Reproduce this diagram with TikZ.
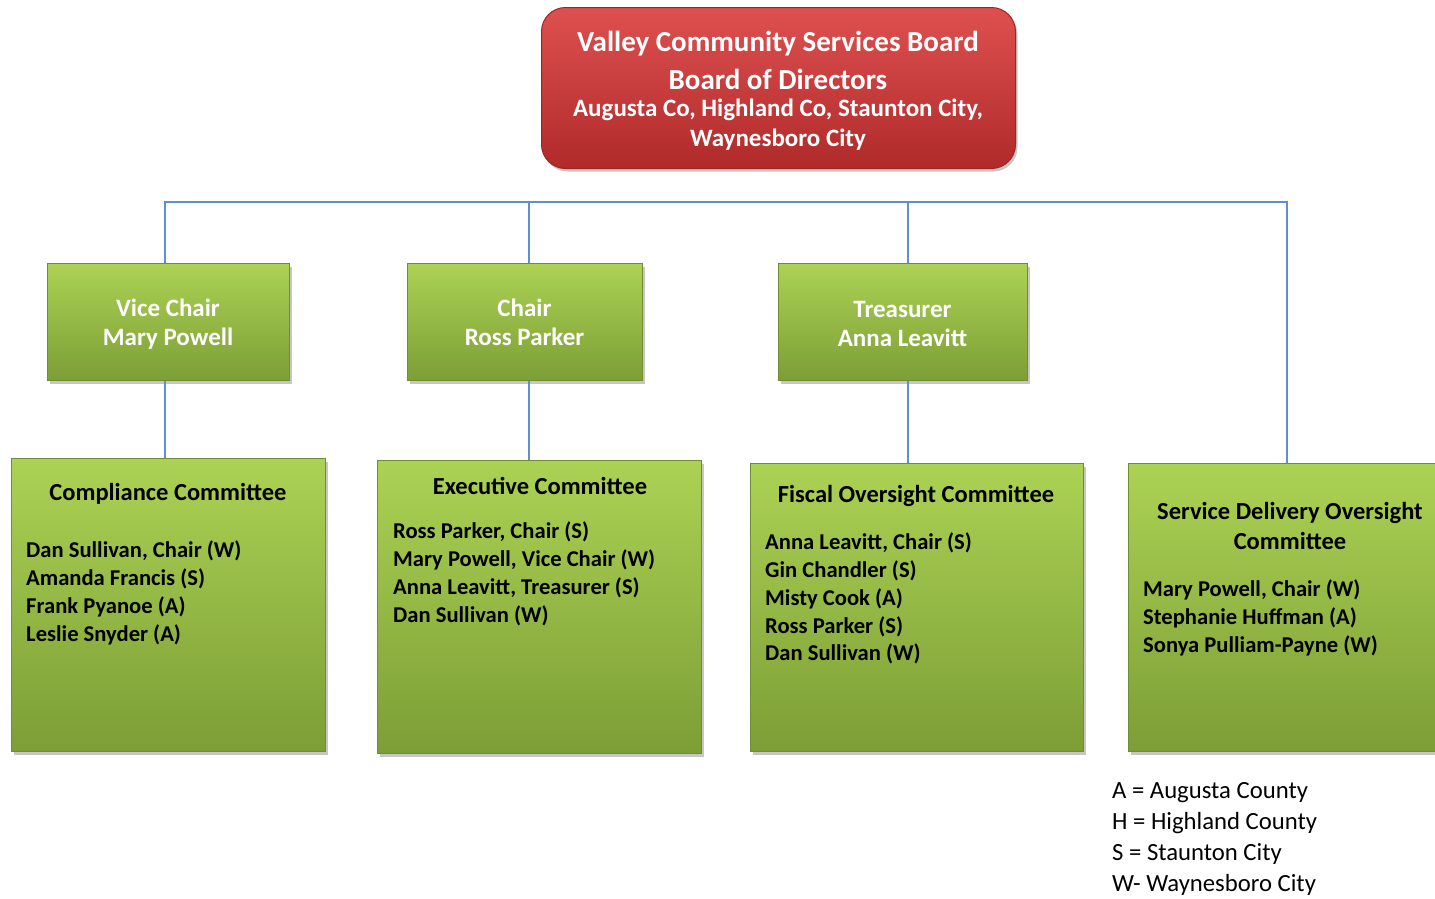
\documentclass[tikz,border=0pt]{standalone}
\usepackage{fontspec}
\setmainfont{Carlito}
\usetikzlibrary{shadows}
\definecolor{gtop}{RGB}{172,210,84}
\definecolor{gbot}{RGB}{124,158,54}
\definecolor{gedge}{RGB}{112,142,48}
\definecolor{rtop}{RGB}{222,80,80}
\definecolor{rbot}{RGB}{176,42,42}
\definecolor{redge}{RGB}{160,36,36}
\definecolor{lineblue}{RGB}{98,142,204}
\begin{document}
\begin{tikzpicture}[x=1pt,y=-1pt,
  greenbox/.style={draw=gedge, line width=1pt, top color=gtop, bottom color=gbot,
    drop shadow={opacity=0.45,shadow xshift=2pt,shadow yshift=-3pt},
    inner sep=0pt, anchor=north west},
  redbox/.style={draw=redge, line width=1pt, top color=rtop, bottom color=rbot,
    rounded corners=24pt,
    drop shadow={opacity=0.45,shadow xshift=2pt,shadow yshift=-3pt},
    inner sep=0pt, anchor=north west},
  boardbig/.style={text=white, font=\bfseries\fontsize{29}{34}\selectfont, inner sep=0pt},
  boardsmall/.style={text=white, font=\bfseries\fontsize{25}{30}\selectfont, inner sep=0pt},
  roletext/.style={text=white, font=\bfseries\fontsize{25}{29}\selectfont, align=center},
  titletext/.style={text=black, font=\bfseries\fontsize{24.5}{30}\selectfont, align=center},
  membertext/.style={text=black, font=\bfseries\fontsize{22.6}{27.7}\selectfont, align=left, anchor=north west, inner sep=0pt},
  legendtext/.style={text=black, font=\fontsize{24.7}{31}\selectfont, align=left, anchor=north west, inner sep=0pt},
  conn/.style={draw=lineblue, line width=1.6pt}
]
\useasboundingbox (0,0) rectangle (1435,898);

% top board
\node[redbox, minimum width=474pt, minimum height=161pt] (board) at (541,7) {};
\node[boardbig] (bt1) at (778,44) {Valley Community Services Board};
\node[boardbig] (bt2) at (778,79) {Board of Directors};
\node[boardsmall] (bt3) at (778,110) {Augusta Co, Highland Co, Staunton City,};
\node[boardsmall] (bt4) at (778,140) {Waynesboro City};

% officers
\node[greenbox, minimum width=242pt, minimum height=117pt] (vc) at (47,263) {};
\node[roletext] (vctext) at (168,324) {Vice Chair\\Mary Powell};
\node[greenbox, minimum width=235pt, minimum height=117pt] (ch) at (407,263) {};
\node[roletext] (chtext) at (524.5,322) {Chair\\Ross Parker};
\node[greenbox, minimum width=249pt, minimum height=117pt] (tr) at (778,263) {};
\node[roletext] (trtext) at (902.5,324) {Treasurer\\Anna Leavitt};

% committees
\node[greenbox, minimum width=314pt, minimum height=293pt] (cc) at (11,458) {};
\node[titletext] (cctitle) at (168,494) {Compliance Committee};
\node[membertext] (ccmem) at (26,541) {Dan Sullivan, Chair (W)\\Amanda Francis (S)\\Frank Pyanoe (A)\\Leslie Snyder (A)};

\node[greenbox, minimum width=324pt, minimum height=293pt] (ec) at (377,460) {};
\node[titletext] (ectitle) at (540,486) {Executive Committee};
\node[membertext] (ecmem) at (393,522) {Ross Parker, Chair (S)\\Mary Powell, Vice Chair (W)\\Anna Leavitt, Treasurer (S)\\Dan Sullivan (W)};

\node[greenbox, minimum width=333pt, minimum height=288pt] (fc) at (750,463) {};
\node[titletext] (fctitle) at (916,496) {Fiscal Oversight Committee};
\node[membertext] (fcmem) at (765,533) {Anna Leavitt, Chair (S)\\Gin Chandler (S)\\Misty Cook (A)\\Ross Parker (S)\\Dan Sullivan (W)};

\node[greenbox, minimum width=318pt, minimum height=288pt] (sd) at (1128,463) {};
\node[titletext] (sdtitle) at (1290,526) {Service Delivery Oversight\\Committee};
\node[membertext] (sdmem) at (1143,580) {Mary Powell, Chair (W)\\Stephanie Huffman (A)\\Sonya Pulliam-Payne (W)};

% legend
\node[legendtext] (legend) at (1112,782) {A = Augusta County\\H = Highland County\\S = Staunton City\\W- Waynesboro City};

% connectors
\coordinate (b1) at (165,202);
\coordinate (b2) at (529,202);
\coordinate (b3) at (908,202);
\coordinate (b4) at (1287,202);
\draw[conn] (vc.north -| b1) -- (b1) -- (b4) -- (sd.north -| b4);
\draw[conn] (b2) -- (ch.north -| b2);
\draw[conn] (b3) -- (tr.north -| b3);
\draw[conn] (vc.south -| b1) -- (cc.north -| b1);
\draw[conn] (ch.south -| b2) -- (ec.north -| b2);
\draw[conn] (tr.south -| b3) -- (fc.north -| b3);
\end{tikzpicture}
\end{document}
